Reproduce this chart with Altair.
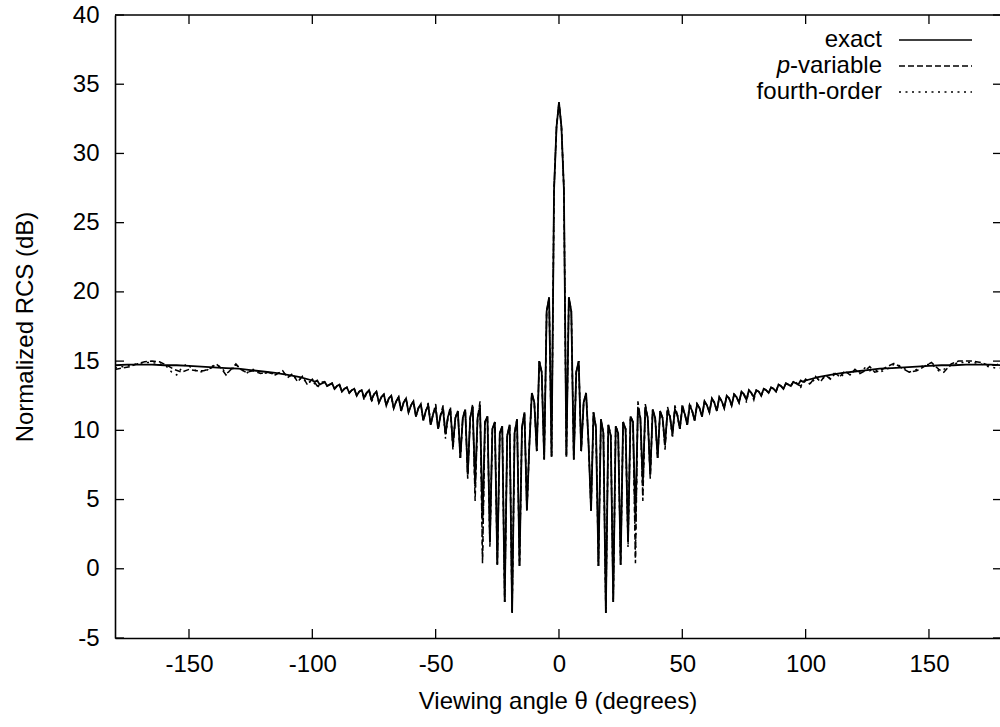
import altair as alt
import pandas as pd

# ---------------- data ----------------
# exact solution, half pattern for theta >= 0 (mirrored for theta < 0)
exact_half_angles = list(range(0, 101)) + [105, 110, 115, 120, 125, 130, 135, 140,
                                           145, 150, 155, 160, 165, 170, 175, 180]
exact_half_values = [
    33.7, 31.9, 27.4, 8.1, 19.6, 18.6, 7.9, 14.2, 15.0, 8.5,      # 0-9
    12.0, 12.7, 9.0, 4.2, 11.3, 10.2, 0.2, 10.8, 9.8, -3.2,       # 10-19
    10.4, 9.6, -2.4, 10.3, 9.8, 0.3, 10.6, 10.1, 1.9, 11.0,       # 20-29
    10.6, 3.5, 11.6, 10.9, 6.2, 11.7, 10.9, 6.8, 11.5, 10.9,      # 30-39
    8.0, 11.4, 10.9, 9.0, 11.4, 11.0, 9.7, 11.5, 11.1, 10.1,      # 40-49
    11.6, 11.2, 10.4, 11.8, 11.4, 10.7, 11.9, 11.6, 11.0, 12.1,   # 50-59
    11.8, 11.3, 12.3, 12.0, 11.4, 12.4, 12.1, 11.6, 12.5, 12.3,   # 60-69
    11.8, 12.6, 12.4, 12.0, 12.8, 12.6, 12.2, 12.9, 12.7, 12.4,   # 70-79
    12.9, 12.8, 12.5, 13.0, 12.9, 12.7, 13.1, 13.0, 12.8, 13.3,   # 80-89
    13.2, 13.0, 13.4, 13.3, 13.2, 13.5, 13.4, 13.3, 13.6, 13.5,   # 90-99
    13.6,                                                         # 100
    13.85, 14.0, 14.15, 14.25, 14.35, 14.45, 14.5, 14.55,
    14.6, 14.65, 14.7, 14.7, 14.75, 14.75, 14.75, 14.7,
]

# approximations: inner part (|theta| <= 95) follows the exact curve except here
pvar_inner_changes = {31: 0.4, 32: 12.1, 34: 4.9, 35: 11.9, 37: 6.5, 43: 8.6,
                      44: 11.7, 47: 11.8, 50: 11.9, 79: 12.2}
fourth_inner_changes = {28: 1.5, 31: 0.8, 32: 11.9, 34: 5.3, 43: 8.8, 46: 9.4,
                        53: 12.0, 76: 12.0}
inner_limit = 95

# approximations: outer parts
pvar_left_angles = [-180, -177, -174, -171, -168, -165, -162, -159, -156, -153, -150,
                    -147, -144, -141, -139, -137, -135, -133, -131, -129, -127, -124,
                    -121, -118, -115, -112, -110, -108, -106, -104, -102, -100, -98, -96]
pvar_left_values = [14.4, 14.5, 14.6, 14.8, 14.95, 15.0, 14.95, 14.7, 14.4, 14.2, 14.4,
                    14.3, 14.3, 14.5, 14.8, 14.5, 14.0, 14.4, 14.8, 14.4, 14.2, 14.3,
                    14.1, 14.2, 14.0, 14.3, 13.8, 14.1, 13.5, 13.9, 13.3, 13.7, 13.2, 13.4]
pvar_right_angles = [96, 98, 100, 102, 104, 106, 108, 110, 112, 114, 116, 118, 120, 122,
                     124, 126, 128, 130, 133, 136, 139, 142, 145, 148, 151, 154, 156,
                     159, 162, 165, 168, 171, 174, 177, 180]
pvar_right_values = [13.4, 13.2, 13.7, 13.4, 13.9, 13.5, 14.0, 13.7, 14.1, 13.9, 14.3,
                     14.0, 14.4, 14.1, 14.3, 14.6, 14.2, 14.3, 14.6, 14.85, 14.5, 14.2,
                     14.3, 14.6, 14.9, 14.4, 14.2, 14.8, 15.0, 15.0, 15.0, 14.9, 14.7,
                     14.7, 14.9]
fourth_left_angles = [-180, -177, -174, -171, -168, -165, -162, -159, -157, -155, -153,
                      -151, -149, -146, -143, -140, -137, -135, -133, -131, -129, -127,
                      -124, -121, -118, -115, -112, -110, -108, -106, -104, -102, -100,
                      -98, -96]
fourth_left_values = [14.5, 14.6, 14.7, 14.8, 14.9, 14.9, 14.8, 14.6, 14.2, 14.0, 14.5,
                      14.8, 14.5, 14.2, 14.3, 14.7, 14.6, 14.1, 14.3, 14.7, 14.5, 14.1,
                      14.4, 14.2, 14.1, 14.1, 14.2, 13.9, 14.0, 13.6, 13.8, 13.4, 13.6,
                      13.1, 13.5]
fourth_right_angles = [96, 98, 100, 102, 104, 106, 108, 110, 112, 114, 116, 118, 120, 122,
                       124, 126, 128, 130, 133, 136, 139, 142, 145, 148, 151, 154, 156,
                       159, 162, 165, 168, 171, 174, 177, 180]
fourth_right_values = [13.5, 13.1, 13.6, 13.3, 13.8, 13.6, 13.9, 13.8, 14.2, 13.8, 14.2,
                       14.1, 14.3, 14.2, 14.5, 14.3, 14.4, 14.2, 14.4, 14.8, 14.6, 14.2,
                       14.4, 14.7, 14.8, 14.3, 14.4, 14.7, 14.9, 14.9, 14.9, 14.8, 14.6,
                       14.5, 14.5]

x_ticks = [-150, -100, -50, 0, 50, 100, 150]
y_ticks = [-5, 0, 5, 10, 15, 20, 25, 30, 35, 40]

# ---------------- build tables ----------------
exact_angles = [-a for a in reversed(exact_half_angles[1:])] + exact_half_angles
exact_values = list(reversed(exact_half_values[1:])) + exact_half_values
exact_df = pd.DataFrame({"angle": exact_angles, "rcs": exact_values})


def approx_df(changes, la, lv, ra, rv):
    ang, val = list(la), list(lv)
    for a, v in zip(exact_angles, exact_values):
        if abs(a) <= inner_limit:
            ang.append(a)
            val.append(changes.get(abs(a), v))
    ang += ra
    val += rv
    return pd.DataFrame({"angle": ang, "rcs": val})


pvar_df = approx_df(pvar_inner_changes, pvar_left_angles, pvar_left_values,
                    pvar_right_angles, pvar_right_values)
fourth_df = approx_df(fourth_inner_changes, fourth_left_angles, fourth_left_values,
                      fourth_right_angles, fourth_right_values)

# ---------------- chart ----------------
FONT = "Liberation Sans"
W, H = 885, 623
XMAX = 178.8  # right edge of the visible part of the plot

x_scale = alt.Scale(domain=[-180, XMAX], nice=False, zero=False)
y_scale = alt.Scale(domain=[-5, 40], nice=False, zero=False)

ax_x = alt.Axis(values=x_ticks, title="Viewing angle θ (degrees)", ticks=False, tickSize=0,
                labelPadding=14, labelFontSize=24, titleFontSize=24, titleFontWeight="normal",
                labelFont=FONT, titleFont=FONT, labelColor="black", titleColor="black",
                domainColor="black", domainWidth=1.6, grid=False, labelFlush=False,
                labelOverlap=False, titleY=70, titleBaseline="alphabetic",
                labelExpr="'' + datum.value")
ax_y = alt.Axis(values=y_ticks, title="Normalized RCS (dB)", ticks=False, tickSize=0,
                labelPadding=16, labelFontSize=24, titleFontSize=24, titleFontWeight="normal",
                labelFont=FONT, titleFont=FONT, labelColor="black", titleColor="black",
                domainColor="black", domainWidth=1.6, grid=False, labelFlush=False,
                labelOverlap=False, titleX=-90, titleY=H / 2, titleBaseline="middle",
                titleAlign="center", labelExpr="'' + datum.value")

X = alt.X("angle:Q", scale=x_scale, axis=ax_x)
Y = alt.Y("rcs:Q", scale=y_scale, axis=ax_y)

line_exact = alt.Chart(exact_df).mark_line(color="black", strokeWidth=1.8, clip=True).encode(x=X, y=Y)
line_pvar = alt.Chart(pvar_df).mark_line(color="black", strokeWidth=1.5, strokeDash=[6, 3],
                                         clip=True).encode(x=X, y=Y)
line_fourth = alt.Chart(fourth_df).mark_line(color="black", strokeWidth=1.5, strokeDash=[2, 4.5],
                                             clip=True).encode(x=X, y=Y)

xt_df = pd.DataFrame({"angle": x_ticks})
yt_df = pd.DataFrame({"rcs": y_ticks})
tick_style = dict(color="black", strokeWidth=1.3)
ticks_bottom = alt.Chart(xt_df).mark_rule(**tick_style).encode(x=X, y=alt.value(H), y2=alt.value(H - 9))
ticks_top = alt.Chart(xt_df).mark_rule(**tick_style).encode(x=X, y=alt.value(0), y2=alt.value(9))
ticks_left = alt.Chart(yt_df).mark_rule(**tick_style).encode(y=Y, x=alt.value(0), x2=alt.value(9))
ticks_right = alt.Chart(yt_df).mark_rule(**tick_style).encode(y=Y, x=alt.value(W - 7), x2=alt.value(W))

one = pd.DataFrame({"k": [0]})
top_border = alt.Chart(one).mark_rule(color="black", strokeWidth=1.6).encode(
    x=alt.value(0), x2=alt.value(W), y=alt.value(0))

# legend
LX_TEXT = 767
LX1, LX2 = 784, 857
rows = [25, 51, 77]
txt = dict(font=FONT, fontSize=24, color="black", align="right", baseline="middle")
leg_exact_t = alt.Chart(one).mark_text(text="exact", **txt).encode(
    x=alt.value(LX_TEXT), y=alt.value(rows[0]))
leg_pvar_t2 = alt.Chart(one).mark_text(text="-variable", **txt).encode(
    x=alt.value(LX_TEXT), y=alt.value(rows[1]))
leg_pvar_t1 = alt.Chart(one).mark_text(text="p", fontStyle="italic", **txt).encode(
    x=alt.value(LX_TEXT - 92), y=alt.value(rows[1]))
leg_fourth_t = alt.Chart(one).mark_text(text="fourth-order", **txt).encode(
    x=alt.value(LX_TEXT), y=alt.value(rows[2]))
leg_exact_l = alt.Chart(one).mark_rule(color="black", strokeWidth=1.6).encode(
    x=alt.value(LX1), x2=alt.value(LX2), y=alt.value(rows[0]))
leg_pvar_l = alt.Chart(one).mark_rule(color="black", strokeWidth=1.4, strokeDash=[6, 3]).encode(
    x=alt.value(LX1), x2=alt.value(LX2), y=alt.value(rows[1]))
leg_fourth_l = alt.Chart(one).mark_rule(color="black", strokeWidth=1.4, strokeDash=[2, 4.5]).encode(
    x=alt.value(LX1), x2=alt.value(LX2), y=alt.value(rows[2]))

chart = alt.layer(
    line_exact, line_pvar, line_fourth,
    ticks_bottom, ticks_top, ticks_left, ticks_right, top_border,
    leg_exact_t, leg_pvar_t1, leg_pvar_t2, leg_fourth_t,
    leg_exact_l, leg_pvar_l, leg_fourth_l,
).properties(
    width=W, height=H,
    padding={"left": 115, "top": 15, "right": 0, "bottom": 89},
    autosize=alt.AutoSizeParams(type="none"),
    background="white",
).configure_view(stroke=None)

chart.save("out.html", embed_options={"renderer": "svg", "actions": False})
